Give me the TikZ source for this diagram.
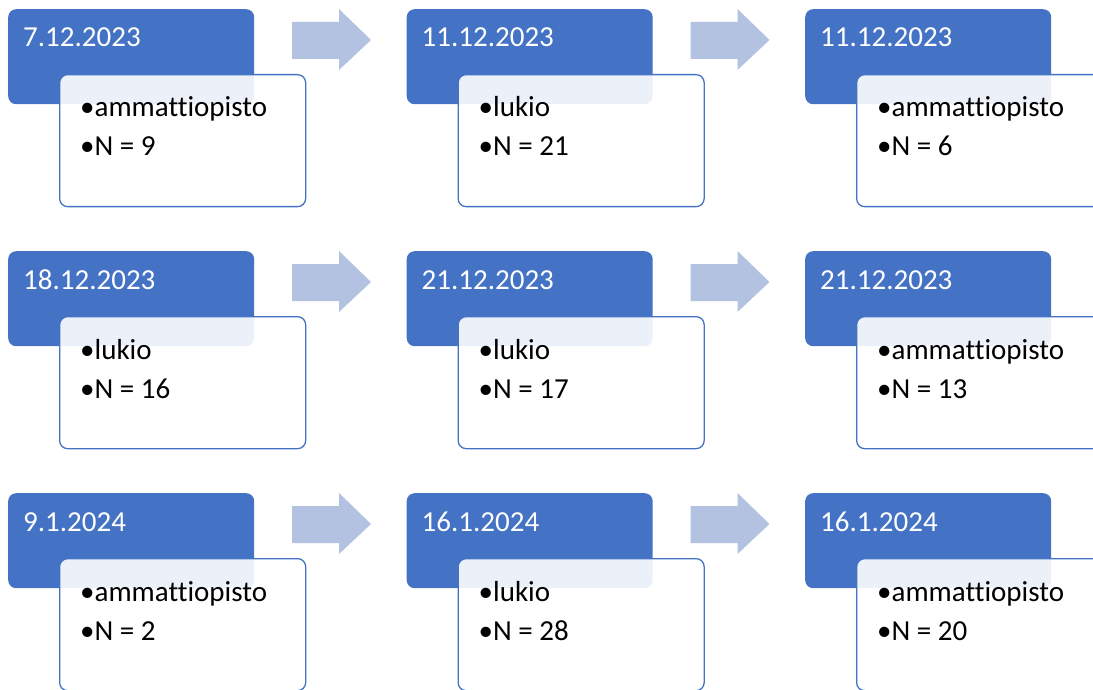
\documentclass[tikz,border=0pt]{standalone}
\usepackage{fontspec}
\setmainfont{Carlito}[Ligatures=NoCommon]
\definecolor{dateblue}{HTML}{4472C4}
\definecolor{arrowblue}{HTML}{B4C2E1}

\begin{document}
\begin{tikzpicture}[x=1pt,y=-1pt,
  datebox/.style={fill=dateblue, rounded corners=8pt, minimum width=246pt, minimum height=95pt, anchor=north west, inner sep=0pt},
  infobox/.style={draw=dateblue, line width=1.3pt, fill=white, fill opacity=0.9, rounded corners=8pt, minimum width=246pt, minimum height=132pt, anchor=north west, inner sep=0pt},
  datetext/.style={text=white, font=\fontsize{29}{35}\selectfont, anchor=base west, inner sep=0pt},
  itemtext/.style={text=black, font=\fontsize{29}{35}\selectfont, anchor=base west, inner sep=0pt}]
\useasboundingbox (0,0) rectangle (1093,690);
\clip (0,0) rectangle (1093,690);
% one card per session
\foreach \r/\c/\date/\kind/\n in {0/0/7.12.2023/ammattiopisto/9, 0/1/11.12.2023/lukio/21, 0/2/11.12.2023/ammattiopisto/6,
  1/0/18.12.2023/lukio/16, 1/1/21.12.2023/lukio/17, 1/2/21.12.2023/ammattiopisto/13,
  2/0/9.1.2024/ammattiopisto/2, 2/1/16.1.2024/lukio/28, 2/2/16.1.2024/ammattiopisto/20} {
  \pgfmathsetmacro\bx{8+398.5*\c}
  \pgfmathsetmacro\by{9+242*\r}
  \node[datebox] (d-\r-\c) at (\bx,\by) {};
  \node[infobox] (i-\r-\c) at (\bx+51,\by+65) {};
  \node[datetext] (t-\r-\c) at (\bx+15,\by+38) {\date};
  \node[itemtext] (k-\r-\c) at (\bx+72,\by+108) {•\kind};
  \node[itemtext] (n-\r-\c) at (\bx+72,\by+147) {•N = \n};
}
% block arrows between cards
\foreach \r in {0,1,2} {
  \foreach \c in {0,1} {
    \pgfmathsetmacro\ax{292+398.5*\c}
    \pgfmathsetmacro\ay{9+242*\r}
    \coordinate (a-\r-\c) at (\ax,\ay);
    \fill[arrowblue] (a-\r-\c) ++(0,13) -- ++(47,0) -- ++(0,-13) -- ++(32,31)
      -- ++(-32,30) -- ++(0,-11) -- ++(-47,0) -- cycle;
  }
}
\end{tikzpicture}
\end{document}
